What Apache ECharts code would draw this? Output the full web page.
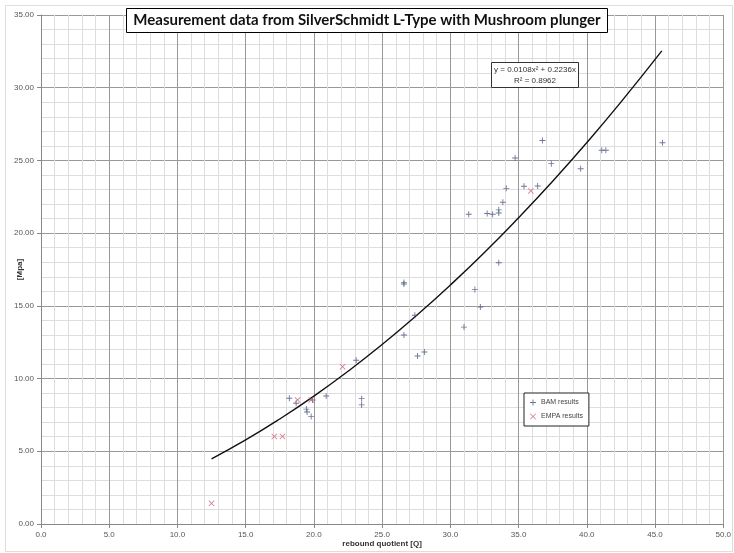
<!DOCTYPE html>
<html>
<head>
<meta charset="utf-8">
<script src="https://cdn.jsdelivr.net/npm/echarts@6/dist/echarts.min.js"></script>
<style>html,body{margin:0;padding:0;background:#fff;}#c{width:734px;height:553px;}</style>
</head>
<body>
<div id="c"></div>
<script>
// BAM results [rebound quotient Q, strength Mpa]
var bamData = [
  [18.2, 8.65], [18.7, 8.3], [19.45, 7.9], [19.5, 7.7], [19.8, 7.4], [19.9, 8.53],
  [20.9, 8.8], [23.1, 11.26], [23.5, 8.62], [23.5, 8.19],
  [26.6, 16.5], [26.6, 16.6], [27.4, 14.35], [26.6, 13.0], [27.6, 11.55], [28.1, 11.83],
  [31.0, 13.54], [31.8, 16.13], [32.2, 14.92],
  [31.35, 21.3], [32.7, 21.35], [33.1, 21.3], [33.55, 21.39], [33.55, 21.6],
  [33.55, 17.96], [33.85, 22.12], [34.1, 23.08], [34.75, 25.17], [35.4, 23.22],
  [36.4, 23.24], [36.75, 26.37], [37.4, 24.78], [39.55, 24.43],
  [41.1, 25.7], [41.4, 25.7], [45.55, 26.22]
];
// EMPA results
var empaData = [
  [12.5, 1.42], [17.1, 6.02], [17.7, 6.02], [18.8, 8.53], [19.8, 8.53],
  [22.1, 10.82], [35.9, 22.9]
];
// Polynomial trend line
var trendData = [
  [12.5, 4.48], [15, 5.78], [17.5, 7.22], [20, 8.79], [22.5, 10.50], [25, 12.34],
  [27.5, 14.32], [30, 16.43], [32.5, 18.67], [35, 21.06], [37.5, 23.57],
  [40, 26.22], [42.5, 29.01], [45.5, 32.53]
];
var titleText = 'Measurement data from SilverSchmidt L-Type with Mushroom plunger';
var equationLines = ['y = 0.0108x\u00B2 + 0.2236x', 'R\u00B2 = 0.8962'];
var xName = 'rebound quotient [Q]';
var yName = '[Mpa]';
var legendNames = ['BAM results', 'EMPA results'];

var plusPath = 'path://M3.4,0H4.6V3.4H8V4.6H4.6V8H3.4V4.6H0V3.4H3.4Z';
var crossPath = 'path://M0,0.8L0.8,0L4,3.2L7.2,0L8,0.8L4.8,4L8,7.2L7.2,8L4,4.8L0.8,8L0,7.2L3.2,4Z';

var chart = echarts.init(document.getElementById('c'), null, {renderer: 'canvas'});
var axisLabelStyle = {fontSize: 8, color: '#555', fontFamily: 'Liberation Sans'};
chart.setOption({
  animation: false,
  backgroundColor: '#fff',
  title: {
    text: titleText,
    left: 'center',
    top: 8,
    padding: [5, 7, 5, 7],
    borderColor: '#000',
    borderWidth: 1,
    backgroundColor: '#fff',
    textStyle: {fontFamily: 'Lato', fontSize: 15, fontWeight: 'bold', color: '#111'}
  },
  legend: {
    data: [
      {name: legendNames[0], icon: plusPath},
      {name: legendNames[1], icon: crossPath}
    ],
    orient: 'vertical',
    left: 524,
    top: 393,
    padding: [6, 6, 6, 6],
    itemGap: 7,
    itemWidth: 6,
    itemHeight: 6,
    borderColor: '#222',
    borderWidth: 1,
    backgroundColor: '#fff',
    textStyle: {fontSize: 7, color: '#444', fontFamily: 'Liberation Sans'}
  },
  graphic: [
    {type: 'rect', left: 3, top: 3, shape: {width: 727, height: 546}, style: {fill: 'none', stroke: '#ddd', lineWidth: 1}, silent: true},
    {type: 'rect', z: 100, shape: {x: 491.5, y: 62.5, width: 87, height: 25}, style: {fill: '#fff', stroke: '#333', lineWidth: 1}},
    {type: 'text', z: 101, x: 535, y: 66, style: {text: equationLines[0], fontSize: 8, fontFamily: 'Liberation Sans', fill: '#333', align: 'center'}},
    {type: 'text', z: 101, x: 535, y: 77, style: {text: equationLines[1], fontSize: 8, fontFamily: 'Liberation Sans', fill: '#333', align: 'center'}}
  ],
  grid: {left: 41, right: 10, top: 15, bottom: 27, containLabel: false},
  xAxis: {
    type: 'value', min: 0, max: 50, interval: 5,
    name: xName, nameLocation: 'middle', nameGap: 16, nameMoveOverlap: false,
    nameTextStyle: {fontSize: 8, fontWeight: 'bold', color: '#333', fontFamily: 'Liberation Sans'},
    axisLine: {show: true, lineStyle: {color: '#888'}},
    axisTick: {show: true, length: 4, lineStyle: {color: '#888'}},
    axisLabel: Object.assign({formatter: function (v) { return v.toFixed(1); }, margin: 7}, axisLabelStyle),
    splitLine: {show: true, lineStyle: {color: '#999', width: 1}},
    minorTick: {show: false, splitNumber: 5},
    minorSplitLine: {show: true, lineStyle: {color: '#ddd', width: 1}}
  },
  yAxis: {
    type: 'value', min: 0, max: 35, interval: 5,
    name: yName, nameLocation: 'middle', nameGap: 17, nameRotate: 90, nameMoveOverlap: false,
    nameTextStyle: {fontSize: 8, fontWeight: 'bold', color: '#333', fontFamily: 'Liberation Sans'},
    axisLine: {show: true, lineStyle: {color: '#888'}},
    axisTick: {show: true, length: 4, lineStyle: {color: '#888'}},
    axisLabel: Object.assign({formatter: function (v) { return v.toFixed(2); }, margin: 7}, axisLabelStyle),
    splitLine: {show: true, lineStyle: {color: '#999', width: 1}},
    minorTick: {show: false, splitNumber: 5},
    minorSplitLine: {show: true, lineStyle: {color: '#ddd', width: 1}}
  },
  series: [
    {
      name: 'trend', type: 'line', data: trendData, smooth: true, symbol: 'none',
      lineStyle: {color: '#111', width: 1.4}, z: 3, silent: true
    },
    {
      name: legendNames[0], type: 'scatter', data: bamData,
      symbol: plusPath, symbolSize: 6,
      itemStyle: {color: '#4a5580'}, z: 4
    },
    {
      name: legendNames[1], type: 'scatter', data: empaData,
      symbol: crossPath, symbolSize: 6,
      itemStyle: {color: '#d0607a'}, z: 4
    }
  ]
});
</script>
</body>
</html>
